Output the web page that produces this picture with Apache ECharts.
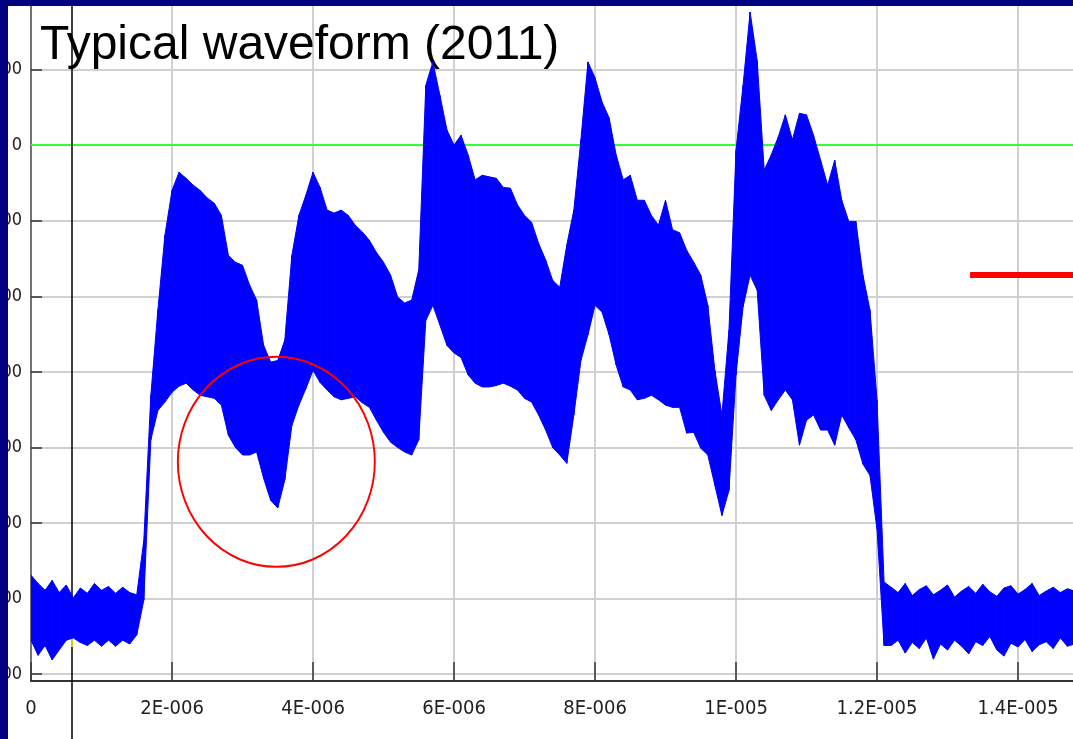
<!DOCTYPE html>
<html>
<head>
<meta charset="utf-8">
<style>
  html, body { margin: 0; padding: 0; background: #fff; }
  #chart { width: 1073px; height: 739px; }
</style>
<script src="https://cdn.jsdelivr.net/npm/echarts@6/dist/echarts.min.js"></script>
</head>
<body>
<div id="chart"></div>
<script>
// envelope of the noisy trace, one sample every 0.1 us (time axis in microseconds)
var sampleStep = 0.1;
var upper = [
  -569, -580, -589, -576, -592, -582, -599, -586, -593, -580, -589, -584, -593, -585, -592, -595,
  -523, -331, -218, -119, -60, -36, -44, -53, -60, -70, -77, -93,
  -146, -155, -159, -185, -205, -265, -287, -285, -258, -146, -93, -66,
  -36, -56, -86, -90, -86, -93, -106, -115, -126, -142, -155, -172, -201, -209, -205, -165,
  79, 110, 66, 20, 0, 13, -13, -46, -40, -42, -44, -56,
  -57, -79, -93, -102, -130, -152, -179, -188, -132, -86, 7, 110,
  89, 57, 36, -13, -46, -40, -73, -73, -93, -106, -73, -112,
  -116, -139, -155, -172, -212, -298, -357, -245, -7, 79, 176, 112,
  -33, -13, 11, 40, 7, 42, 40, 13, -20, -53, -20, -73,
  -101, -101, -172, -218, -337, -578,
  -585, -592, -580, -596, -588, -583, -595, -589, -582, -598, -590, -584, -593, -581,
  -591, -597, -586, -583, -594, -588, -580, -596, -590, -585, -592, -587, -590
];
var lower = [
  -655, -675, -662, -681, -668, -655, -652, -658, -662, -655, -663, -655, -663, -655, -660, -648,
  -602, -390, -351, -340, -327, -319, -315, -324, -331, -333, -335, -344,
  -384, -400, -410, -410, -406, -441, -470, -480, -443, -371, -344, -322,
  -298, -314, -324, -333, -337, -335, -333, -341, -347, -364, -380, -393, -400, -406, -410, -390,
  -232, -212, -238, -265, -275, -281, -304, -315, -320, -320, -318, -315,
  -319, -324, -335, -340, -357, -377, -400, -410, -421, -357, -285, -251,
  -212, -221, -251, -291, -320, -324, -337, -335, -331, -337, -344, -347,
  -347, -381, -380, -401, -410, -450, -490, -457, -304, -214, -172, -192,
  -331, -351, -337, -324, -337, -397, -364, -357, -377, -377, -397, -357,
  -374, -390, -422, -437, -508, -662,
  -662, -655, -672, -658, -666, -652, -680, -660, -668, -655, -663, -673, -657, -662,
  -650, -668, -676, -659, -664, -654, -670, -661, -657, -666, -652, -663, -660
];

var xTicks = [0, 2, 4, 6, 8, 10, 12, 14];
var yTicks = [-700, -600, -500, -400, -300, -200, -100, 0, 100];
var xMax = 14.78;
var yMin = -709;
var yMax = 184;

var threshold = 0;            // green level line
var cursorT = 0.58;           // black cursor
var cursorHit = [-605, -664]; // yellow part of the cursor on the trace
var circleCenter = [3.48, -419];
var redMarker = [[13.32, -172], [14.78, -172]];

var narrow = "'Liberation Sans Narrow', 'DejaVu Sans Condensed', sans-serif";

function sciLabel(us) {
  if (us === 0) return '0';
  var s = us / 1e6;
  var exp = Math.floor(Math.log10(s) + 1e-9);
  var mant = Math.round(s / Math.pow(10, exp) * 1e4) / 1e4;
  return mant + 'E' + (exp < 0 ? '-' : '+') + ('00' + Math.abs(exp)).slice(-3);
}

var times = upper.map(function (v, i) { return +(i * sampleStep).toFixed(2); });
var traceData = times.map(function (t, i) { return [t, lower[i], upper[i]]; });

// one filled quad between sample i and sample i+1
function renderBand(params, api) {
  var i = params.dataIndex;
  if (i >= times.length - 1) return null;
  var pts = [
    api.coord([times[i], upper[i]]),
    api.coord([times[i + 1], upper[i + 1]]),
    api.coord([times[i + 1], lower[i + 1]]),
    api.coord([times[i], lower[i]])
  ];
  return {
    type: 'polygon',
    shape: { points: pts },
    style: { fill: '#0000ff', stroke: '#0000ff', lineWidth: 1 }
  };
}

var chart = echarts.init(document.getElementById('chart'));

option = {
  animation: false,
  backgroundColor: '#fff',
  title: {
    text: 'Typical waveform (2011)',
    left: 40,
    top: 22,
    padding: 0,
    textStyle: {
      fontFamily: "'Liberation Sans', Arial, sans-serif",
      fontSize: 48,
      fontWeight: 'normal',
      color: '#000'
    }
  },
  grid: [
    { left: 31, right: 0, top: 6, bottom: 58, containLabel: false, outerBoundsMode: 'none' },
    { left: 31, right: 0, top: 681, bottom: 0, containLabel: false, outerBoundsMode: 'none' }
  ],
  xAxis: [{
    type: 'value',
    min: 0,
    max: xMax,
    axisLine: { onZero: false, lineStyle: { color: '#333', width: 2 } },
    axisTick: { inside: true, length: 19, customValues: xTicks, lineStyle: { color: '#333', width: 1.5 } },
    axisLabel: {
      customValues: xTicks,
      margin: 18,
      color: '#222',
      fontFamily: narrow,
      fontSize: 20,
      formatter: sciLabel
    },
    splitLine: { show: true, lineStyle: { color: '#d0d0d0', width: 2 } }
  }, {
    type: 'value',
    gridIndex: 1,
    min: 0,
    max: xMax,
    show: false
  }],
  yAxis: [{
    type: 'value',
    min: yMin,
    max: yMax,
    axisLine: { show: true, lineStyle: { color: '#555', width: 1.5 } },
    axisTick: { show: true, inside: true, length: 11, customValues: yTicks, lineStyle: { color: '#333', width: 1.5 } },
    axisLabel: {
      customValues: yTicks,
      margin: 9,
      color: '#222',
      fontFamily: narrow,
      fontSize: 18
    },
    splitLine: { show: true, lineStyle: { color: '#d0d0d0', width: 2 } }
  }, {
    type: 'value',
    gridIndex: 1,
    min: 0,
    max: 1,
    show: false
  }],
  series: [
    {
      name: 'levels',
      type: 'line',
      data: [[cursorT, threshold]],
      showSymbol: false,
      silent: true,
      z: 3,
      lineStyle: { opacity: 0 },
      markLine: {
        silent: true,
        symbol: 'none',
        label: { show: false },
        data: [
          { yAxis: threshold, lineStyle: { color: '#33ff33', width: 2, type: 'solid' } },
          { xAxis: cursorT, lineStyle: { color: '#000', width: 1.5, type: 'solid' } }
        ]
      }
    },
    {
      name: 'trace',
      type: 'custom',
      data: traceData,
      renderItem: renderBand,
      encode: { x: 0, y: [1, 2] },
      clip: true,
      silent: true,
      z: 10
    },
    {
      name: 'cursorHit',
      type: 'line',
      data: [[cursorT, cursorHit[0]]],
      showSymbol: false,
      z: 11,
      lineStyle: { opacity: 0 },
      markLine: {
        silent: true,
        symbol: 'none',
        label: { show: false },
        lineStyle: { color: '#ffff00', width: 1.5, type: 'solid' },
        data: [[{ coord: [cursorT, cursorHit[0]] }, { coord: [cursorT, cursorHit[1]] }]]
      }
    },
    {
      name: 'circle',
      type: 'scatter',
      data: [circleCenter],
      symbol: 'circle',
      symbolSize: [197, 210],
      silent: true,
      z: 12,
      itemStyle: { color: 'rgba(0,0,0,0)', borderColor: '#ff0000', borderWidth: 2, opacity: 1 }
    },
    {
      name: 'marker',
      type: 'line',
      data: redMarker,
      showSymbol: false,
      silent: true,
      z: 12,
      lineStyle: { color: '#ff0000', width: 6, cap: 'butt' }
    },
    {
      name: 'cursorTail',
      type: 'line',
      xAxisIndex: 1,
      yAxisIndex: 1,
      data: [[cursorT, 0.5]],
      showSymbol: false,
      silent: true,
      lineStyle: { opacity: 0 },
      markLine: {
        silent: true,
        symbol: 'none',
        label: { show: false },
        data: [{ xAxis: cursorT, lineStyle: { color: '#000', width: 1.5, type: 'solid' } }]
      }
    }
  ],
  graphic: [
    { type: 'rect', z: 100, shape: { x: 0, y: 0, width: 8, height: 739 }, style: { fill: '#000080' } },
    { type: 'rect', z: 100, shape: { x: 0, y: 0, width: 1073, height: 6 }, style: { fill: '#000080' } }
  ]
};

chart.setOption(option);
</script>
</body>
</html>
